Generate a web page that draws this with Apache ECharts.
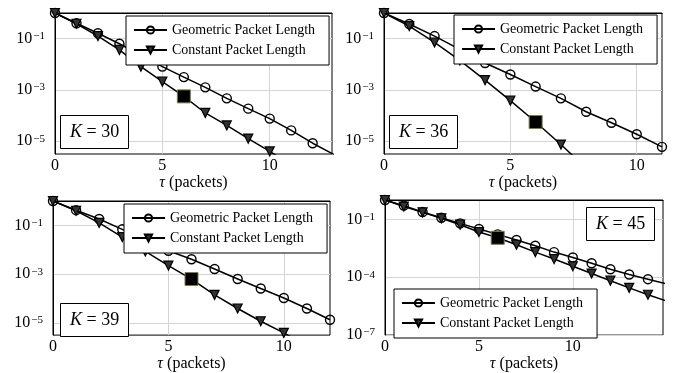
<!DOCTYPE html>
<html><head><meta charset="utf-8">
<script src="https://cdn.jsdelivr.net/npm/echarts@6/dist/echarts.min.js"></script>
<style>html,body{margin:0;padding:0;background:#fff}#c{width:674px;height:373px}</style>
</head><body><div id="c"></div>
<script>
// tau (packets)
const tau = [0,1,2,3,4,5,6,7,8,9,10,11,12,13,14,15];
// K = 30
const geo30   = [1, 0.398, 0.162, 0.0631, 0.0224, 8.13e-3, 3.16e-3, 1.26e-3, 4.68e-4, 1.86e-4, 7.59e-5, 2.63e-5, 8.32e-6, 3.0e-6];
const const30 = [1, 0.38, 0.126, 0.0363, 8.1e-3, 2.1e-3, 5.6e-4, 1.26e-4, 4.1e-5, 1.26e-5, 4.0e-6, 1.2e-6];
const square30 = 5.6e-4;
// K = 36
const geo36   = [1, 0.372, 0.126, 0.038, 0.0112, 3.98e-3, 1.35e-3, 4.68e-4, 1.41e-4, 5.25e-5, 1.86e-5, 6.0e-6];
const const36 = [1, 0.309, 0.0708, 0.0141, 2.4e-3, 3.8e-4, 5.6e-5, 7.4e-6, 8.9e-7];
const square36 = 5.6e-5;
// K = 39
const geo39   = [1, 0.42, 0.182, 0.069, 0.0251, 9.1e-3, 4.1e-3, 1.62e-3, 6.3e-4, 2.57e-4, 1.05e-4, 3.9e-5, 1.35e-5];
const const39 = [1, 0.398, 0.126, 0.0331, 8.5e-3, 2.24e-3, 6.3e-4, 1.41e-4, 3.9e-5, 1.17e-5, 3.9e-6, 1.12e-6];
const square39 = 6.3e-4;
// K = 45
const geo45   = [1, 0.513, 0.24, 0.12, 0.0617, 0.0316, 0.0166, 8.5e-3, 4.27e-3, 2.0e-3, 1.05e-3, 5.25e-4, 2.57e-4, 1.38e-4, 7.9e-5, 4.5e-5];
const const45 = [1, 0.457, 0.229, 0.112, 0.0525, 0.0219, 0.011, 4.8e-3, 2.0e-3, 8.7e-4, 3.7e-4, 1.55e-4, 6.6e-5, 2.8e-5, 1.23e-5, 5.75e-6];
const square45 = 0.011;
const squareTau = 6;

const kValues = [30, 36, 39, 45];
const xTicks = [0, 5, 10];
const xMaxes = [12.9, 11, 12, 14.8];
const yExpMins = [-5.5, -5.5, -5.5, -7];
const yExpTicks = [[-5, -3, -1], [-5, -3, -1], [-5, -3, -1], [-7, -4, -1]];
const seriesNames = ['Geometric Packet Length', 'Constant Packet Length'];

const geoAll = [geo30, geo36, geo39, geo45];
const constAll = [const30, const36, const39, const45];
const squares = [square30, square36, square39, square45];

const grids = [
  {left: 55, top: 13, width: 277, height: 141},
  {left: 384, top: 13, width: 278, height: 141},
  {left: 53, top: 201, width: 277, height: 141},
  {left: 385, top: 200, width: 278, height: 142}
];
const legendPos = [
  {left: 126, top: 16}, {left: 454, top: 15}, {left: 124, top: 204}, {left: 394, top: 289}
];
const titlePos = [
  {left: 60, top: 115}, {left: 389, top: 115}, {left: 60, top: 303}, {left: 586, top: 207}
];

const FONT = '"Liberation Serif", "DejaVu Serif", serif';
const toPts = arr => arr.map((v, i) => [tau[i], Math.log10(v)]);

const option = {
  animation: false,
  backgroundColor: '#fff',
  grid: grids.map(g => Object.assign({show: true, borderColor: '#000', borderWidth: 1, backgroundColor: 'transparent'}, g)),
  xAxis: grids.map((g, i) => ({
    type: 'value', gridIndex: i, min: 0, max: xMaxes[i],
    axisLine: {show: true, lineStyle: {color: '#000', width: 1}},
    axisTick: {show: false, customValues: xTicks},
    splitLine: {show: true, lineStyle: {color: '#d4d4d4', width: 1}},
    axisLabel: {customValues: xTicks, color: '#000', fontFamily: FONT, fontSize: 16, margin: 4},
    name: '{i|τ} (packets)', nameLocation: 'middle', nameGap: 15,
    nameTextStyle: {color: '#000', fontFamily: FONT, fontSize: 16,
      rich: {i: {fontStyle: 'italic', fontFamily: FONT, fontSize: 16, color: '#000'}}}
  })),
  yAxis: grids.map((g, i) => ({
    type: 'value', gridIndex: i, min: yExpMins[i], max: 0,
    axisLine: {show: true, lineStyle: {color: '#000', width: 1}},
    axisTick: {show: false, customValues: yExpTicks[i]},
    splitLine: {show: true, lineStyle: {color: '#d4d4d4', width: 1}},
    axisLabel: {
      customValues: yExpTicks[i], margin: 10,
      formatter: v => '{b|10}{s|−' + Math.abs(Math.round(v)) + '}',
      rich: {
        b: {fontFamily: FONT, fontSize: 16, color: '#000', verticalAlign: 'bottom', lineHeight: 16},
        s: {fontFamily: FONT, fontSize: 11, color: '#000', verticalAlign: 'top', lineHeight: 11, padding: [0, 0, 0, 1]}
      }
    }
  })),
  legend: legendPos.map(p => ({
    left: p.left, top: p.top, orient: 'vertical', data: seriesNames,
    backgroundColor: '#fff', borderColor: '#000', borderWidth: 1,
    padding: [7, 14, 8, 7], itemGap: 6, itemWidth: 33, itemHeight: 9,
    textStyle: {fontFamily: FONT, fontSize: 14, color: '#000', lineHeight: 14},
    selectedMode: false
  })),
  title: titlePos.map((p, i) => ({
    left: p.left, top: p.top,
    text: '{k|K} = ' + kValues[i],
    backgroundColor: '#fff', borderColor: '#000', borderWidth: 1, padding: [8, 10],
    textStyle: {fontFamily: FONT, fontSize: 18, fontWeight: 'normal', color: '#000',
      rich: {k: {fontFamily: FONT, fontSize: 18, fontStyle: 'italic', color: '#000'}}}
  })),
  series: []
};

for (let i = 0; i < 4; i++) {
  option.series.push({
    name: seriesNames[0], type: 'line', xAxisIndex: i, yAxisIndex: i,
    data: toPts(geoAll[i]), symbol: 'circle', symbolSize: 9,
    itemStyle: {color: 'rgba(255,255,255,0)', borderColor: '#000', borderWidth: 1.4},
    lineStyle: {color: '#000', width: 1.5}, z: 3
  });
  option.series.push({
    name: seriesNames[1], type: 'line', xAxisIndex: i, yAxisIndex: i,
    data: toPts(constAll[i]), symbol: 'triangle', symbolSize: 9, symbolRotate: 180,
    itemStyle: {color: '#333', borderColor: '#000', borderWidth: 1.2},
    lineStyle: {color: '#000', width: 1.5}, z: 3
  });
  option.series.push({
    name: 'marker', type: 'scatter', xAxisIndex: i, yAxisIndex: i,
    data: [[squareTau, Math.log10(squares[i])]], symbol: 'rect', symbolSize: 13,
    itemStyle: {color: '#000', opacity: 1, borderColor: '#7d7a4a', borderWidth: 1}, z: 5
  });
}

const chart = echarts.init(document.getElementById('c'), null, {renderer: 'canvas'});
chart.setOption(option);
</script>
</body></html>
